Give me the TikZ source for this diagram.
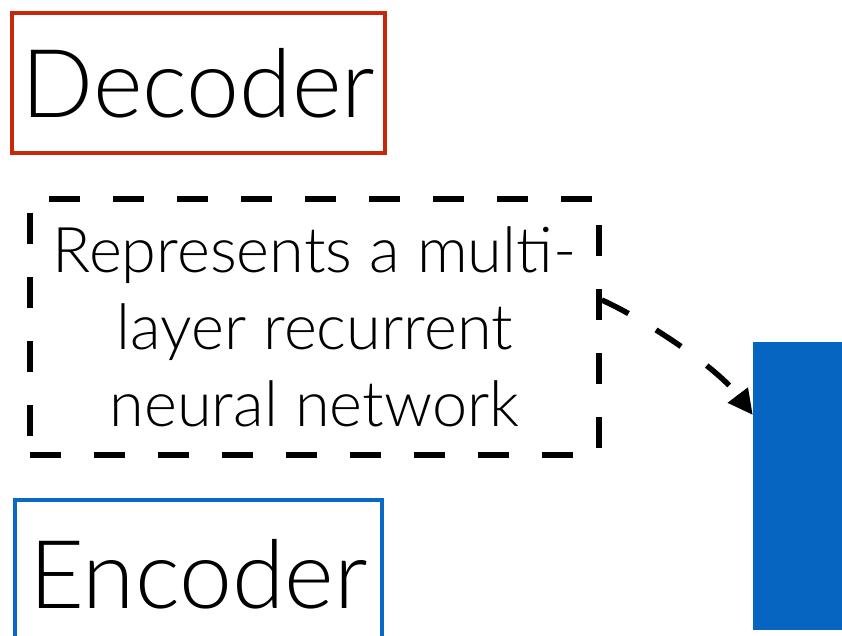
\documentclass[tikz,border=0pt]{standalone}
\usepackage{fontspec}
\setmainfont{Lato}[UprightFont=* Light]
\usetikzlibrary{arrows.meta}
\definecolor{decred}{RGB}{200,40,10}
\definecolor{encblue}{RGB}{10,104,200}
\definecolor{rnnblue}{RGB}{5,101,192}

\begin{document}
\begin{tikzpicture}[x=1pt,y=-1pt]
        \tikzstyle{every node} = [rectangle, inner sep=0pt]
        \tikzstyle{titlebox} = [draw, line width=4.5pt, font=\fontsize{95}{100}\selectfont]
        \tikzstyle{notebox} = [draw, line width=5.5pt, dash pattern=on 31pt off 33pt, align=center, font=\fontsize{63}{77}\selectfont]
        \useasboundingbox (0,0) rectangle (842,636);
        \clip (0,0) rectangle (842,636);

        \node[titlebox, draw=decred, minimum width=373, minimum height=140] (dec) at (198.5,83) {Decoder};
        \node[notebox, minimum width=569, minimum height=256] (note) at (314.5,327) {Represents a multi-\\layer recurrent\\neural network};
        \node[fill=rnnblue, minimum width=200, minimum height=288] (rnn) at (853,486) {};
        \node[titlebox, draw=encblue, minimum width=367, minimum height=148] (enc) at (198.5,574) {Encoder};

        \draw[line width=5.5pt, dash pattern=on 30pt off 32pt, -{Triangle[length=25pt,width=24pt]}]
                ([yshift=27pt]note.east) .. controls (640,317) and (715,365) .. ([yshift=71pt]rnn.west);
\end{tikzpicture}
\end{document}
